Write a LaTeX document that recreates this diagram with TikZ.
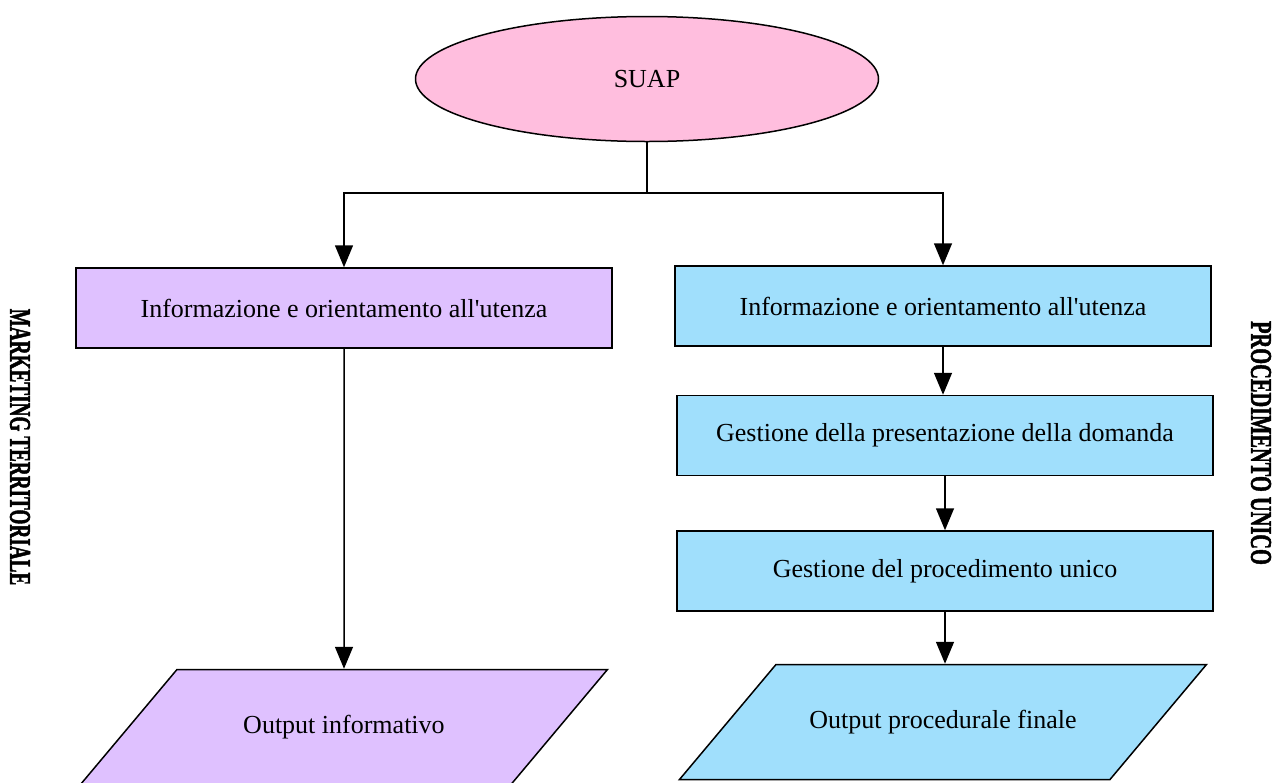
\documentclass[tikz,border=0pt]{standalone}
\usepackage{fontspec}
\setmainfont{Liberation Serif}
\newfontfamily\lanefont[FakeBold=2]{Liberation Serif}
\usepackage{tikz}
\usetikzlibrary{arrows.meta,positioning,shapes.geometric}
\definecolor{rosa}{HTML}{FFBEDE}
\definecolor{lilla}{HTML}{DFC1FF}
\definecolor{cielo}{HTML}{A0DFFC}
\newcommand{\apo}{\textquotesingle}
\newcommand{\outtext}[1]{\makebox[167pt]{#1}}
\tikzset{
  box/.style={draw=black,line width=0.75pt,minimum width=268pt,minimum height=40pt,inner sep=2pt,font=\fontsize{13}{15}\selectfont},
  boxp/.style={box,fill=lilla},
  boxb/.style={box,fill=cielo},
  start/.style={ellipse,draw=black,fill=rosa,line width=0.75pt,minimum width=231.5pt,minimum height=62.5pt,font=\fontsize{13}{15}\selectfont},
  outp/.style={trapezium,trapezium left angle=50,trapezium right angle=130,draw=black,line width=0.75pt,text height=9pt,text depth=3pt,inner xsep=0pt,inner ysep=22.75pt,font=\fontsize{13}{15}\selectfont},
  lane/.style={rotate=-90,inner sep=0pt,font=\lanefont\bfseries\fontsize{15}{15}\selectfont},
  arr/.style={-{Triangle[length=11pt,width=9pt]},line width=0.75pt},
}
\begin{document}
\begin{tikzpicture}[x=0.5pt,y=-0.5pt]
\useasboundingbox (0,0) rectangle (1274,782);
\node[start] (suap) at (647,79) {SUAP};
\node[boxp] (infoL) at (344,308) {Informazione e orientamento all\apo utenza};
\node[boxb] (infoR) at (943,306) {Informazione e orientamento all\apo utenza};
\node[boxb,below=24pt of infoR,xshift=1pt] (domanda) {Gestione della presentazione della domanda};
\node[boxb,below=27pt of domanda] (proc) {Gestione del procedimento unico};
\node[outp,fill=cielo,below=26pt of proc,xshift=-1pt] (finale) {\outtext{Output procedurale finale}};
\node[outp,fill=lilla,below=160pt of infoL] (informativo) {\outtext{Output informativo}};
% etichette laterali
\node[lane] (mkt) at (20,447) {\scalebox{0.64}[1]{MARKETING TERRITORIALE}};
\node[lane] (pu) at (1261,443) {\scalebox{0.68}[1]{PROCEDIMENTO UNICO}};
\coordinate (fork) at (647,193);
\draw[line width=0.75pt](suap.south)--(fork);\draw[arr](fork)-|(infoL.north);\draw[arr](fork)-|(infoR.north);
\draw[arr](infoL)--(informativo);\draw[arr](infoR.south)--(infoR.south|-domanda.north);\draw[arr](domanda)--(proc);\draw[arr](proc)--(proc|-finale.north);
\end{tikzpicture}
\end{document}
